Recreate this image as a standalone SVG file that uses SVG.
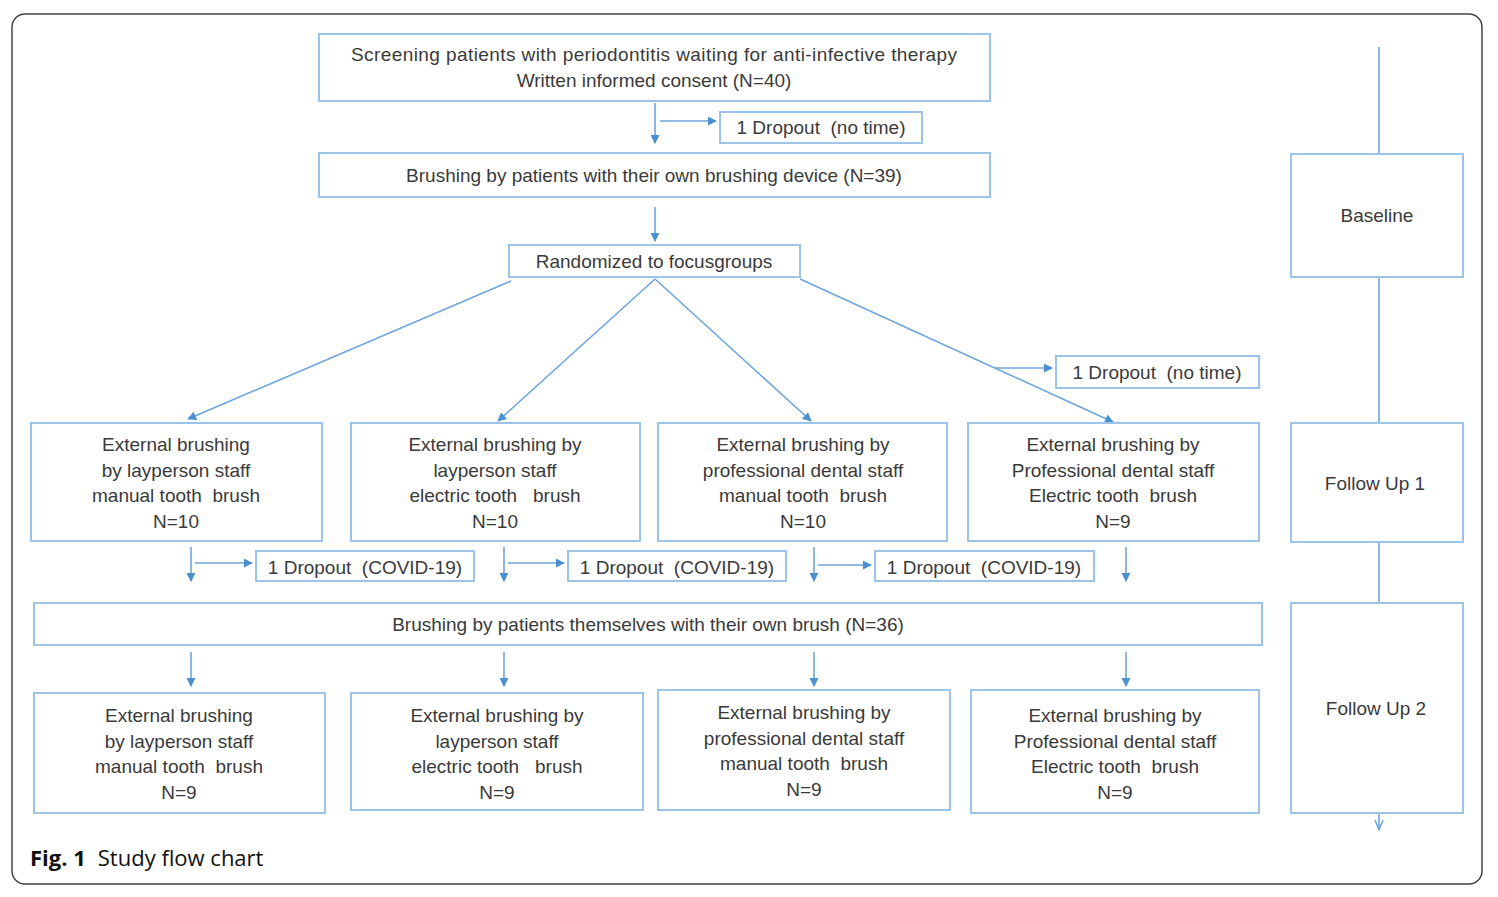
<svg xmlns="http://www.w3.org/2000/svg" width="1498" height="897" viewBox="0 0 1498 897">
<defs>
<style>
.box{fill:#fff;stroke:#9cc3e8;stroke-width:2}
.t{font-family:"Liberation Sans",Arial,sans-serif;font-size:19px;fill:#3a3a3a;text-anchor:middle;white-space:pre}
.c{fill:none;stroke:#6fa5da;stroke-width:1.6}
.cap{font-family:"Open Sans","Liberation Sans",sans-serif;font-size:22px;fill:#111}
</style>
<marker id="ah" viewBox="0 0 10 10" refX="9" refY="5" markerWidth="9" markerHeight="9" orient="auto" markerUnits="userSpaceOnUse">
<path d="M0,0 L10,5 L0,10 z" fill="#4a8fd0"/>
</marker>
<marker id="oh" viewBox="0 0 12 10" refX="11" refY="5" markerWidth="12" markerHeight="10" orient="auto" markerUnits="userSpaceOnUse">
<path d="M1,1 L11,5 L1,9" fill="none" stroke="#6fa5da" stroke-width="1.5"/>
</marker>
</defs>
<rect x="0" y="0" width="1498" height="897" fill="#fff"/>
<rect x="12" y="14" width="1470" height="870" rx="13" ry="13" fill="none" stroke="#444" stroke-width="1.5"/>

<g id="connectors">
<line class="c" x1="655" y1="103" x2="655" y2="143" marker-end="url(#ah)"/>
<line class="c" x1="660" y1="121" x2="716" y2="121" marker-end="url(#ah)"/>
<line class="c" x1="655" y1="207" x2="655" y2="241" marker-end="url(#ah)"/>
<line class="c" x1="511" y1="281" x2="188" y2="419" marker-end="url(#ah)"/>
<line class="c" x1="655" y1="279" x2="498" y2="421" marker-end="url(#ah)"/>
<line class="c" x1="655" y1="279" x2="811" y2="421" marker-end="url(#ah)"/>
<line class="c" x1="800" y1="279" x2="1113" y2="422" marker-end="url(#ah)"/>
<line class="c" x1="995" y1="368" x2="1052" y2="368" marker-end="url(#ah)"/>
<line class="c" x1="191" y1="547" x2="191" y2="581" marker-end="url(#ah)"/>
<line class="c" x1="195" y1="563" x2="252" y2="563" marker-end="url(#ah)"/>
<line class="c" x1="504" y1="547" x2="504" y2="581" marker-end="url(#ah)"/>
<line class="c" x1="508" y1="563" x2="564" y2="563" marker-end="url(#ah)"/>
<line class="c" x1="814" y1="547" x2="814" y2="581" marker-end="url(#ah)"/>
<line class="c" x1="818" y1="565" x2="871" y2="565" marker-end="url(#ah)"/>
<line class="c" x1="1126" y1="547" x2="1126" y2="581" marker-end="url(#ah)"/>
<line class="c" x1="191" y1="652" x2="191" y2="686" marker-end="url(#ah)"/>
<line class="c" x1="504" y1="652" x2="504" y2="686" marker-end="url(#ah)"/>
<line class="c" x1="814" y1="652" x2="814" y2="686" marker-end="url(#ah)"/>
<line class="c" x1="1126" y1="652" x2="1126" y2="686" marker-end="url(#ah)"/>
<line class="c" x1="1379" y1="47" x2="1379" y2="154"/>
<line class="c" x1="1379" y1="277" x2="1379" y2="423"/>
<line class="c" x1="1379" y1="542" x2="1379" y2="603"/>
<line class="c" x1="1379" y1="813" x2="1379" y2="830" marker-end="url(#oh)"/>
</g>

<g id="screening">
<rect class="box" x="319" y="34" width="671" height="67"/>
<text class="t" x="654" y="61" textLength="606">Screening patients with periodontitis waiting for anti-infective therapy</text>
<text class="t" x="654" y="87">Written informed consent (N=40)</text>
</g>
<g id="dropout1">
<rect class="box" x="720" y="112" width="202" height="31"/>
<text class="t" x="821" y="134">1 Dropout  (no time)</text>
</g>
<g id="own-device">
<rect class="box" x="319" y="153" width="671" height="44"/>
<text class="t" x="654" y="182">Brushing by patients with their own brushing device (N=39)</text>
</g>
<g id="randomized">
<rect class="box" x="509" y="245" width="291" height="32"/>
<text class="t" x="654" y="268">Randomized to focusgroups</text>
</g>
<g id="dropout2">
<rect class="box" x="1056" y="356" width="203" height="32"/>
<text class="t" x="1157" y="379">1 Dropout  (no time)</text>
</g>

<g id="g1a">
<rect class="box" x="31" y="423" width="291" height="118"/>
<text class="t" x="176" y="451">External brushing</text>
<text class="t" x="176" y="477">by layperson staff</text>
<text class="t" x="176" y="502">manual tooth  brush</text>
<text class="t" x="176" y="528">N=10</text>
</g>
<g id="g2a">
<rect class="box" x="351" y="423" width="289" height="118"/>
<text class="t" x="495" y="451">External brushing by</text>
<text class="t" x="495" y="477">layperson staff</text>
<text class="t" x="495" y="502">electric tooth   brush</text>
<text class="t" x="495" y="528">N=10</text>
</g>
<g id="g3a">
<rect class="box" x="658" y="423" width="289" height="118"/>
<text class="t" x="803" y="451">External brushing by</text>
<text class="t" x="803" y="477">professional dental staff</text>
<text class="t" x="803" y="502">manual tooth  brush</text>
<text class="t" x="803" y="528">N=10</text>
</g>
<g id="g4a">
<rect class="box" x="968" y="423" width="291" height="118"/>
<text class="t" x="1113" y="451">External brushing by</text>
<text class="t" x="1113" y="477">Professional dental staff</text>
<text class="t" x="1113" y="502">Electric tooth  brush</text>
<text class="t" x="1113" y="528">N=9</text>
</g>

<g id="covid1">
<rect class="box" x="256" y="551" width="218" height="30"/>
<text class="t" x="365" y="574">1 Dropout  (COVID-19)</text>
</g>
<g id="covid2">
<rect class="box" x="568" y="551" width="218" height="30"/>
<text class="t" x="677" y="574">1 Dropout  (COVID-19)</text>
</g>
<g id="covid3">
<rect class="box" x="875" y="551" width="219" height="30"/>
<text class="t" x="984" y="574">1 Dropout  (COVID-19)</text>
</g>

<g id="own-brush">
<rect class="box" x="34" y="603" width="1228" height="42"/>
<text class="t" x="648" y="631">Brushing by patients themselves with their own brush (N=36)</text>
</g>

<g id="g1b">
<rect class="box" x="34" y="693" width="291" height="120"/>
<text class="t" x="179" y="722">External brushing</text>
<text class="t" x="179" y="748">by layperson staff</text>
<text class="t" x="179" y="773">manual tooth  brush</text>
<text class="t" x="179" y="799">N=9</text>
</g>
<g id="g2b">
<rect class="box" x="351" y="693" width="292" height="117"/>
<text class="t" x="497" y="722">External brushing by</text>
<text class="t" x="497" y="748">layperson staff</text>
<text class="t" x="497" y="773">electric tooth   brush</text>
<text class="t" x="497" y="799">N=9</text>
</g>
<g id="g3b">
<rect class="box" x="658" y="690" width="292" height="120"/>
<text class="t" x="804" y="719">External brushing by</text>
<text class="t" x="804" y="745">professional dental staff</text>
<text class="t" x="804" y="770">manual tooth  brush</text>
<text class="t" x="804" y="796">N=9</text>
</g>
<g id="g4b">
<rect class="box" x="971" y="690" width="288" height="123"/>
<text class="t" x="1115" y="722">External brushing by</text>
<text class="t" x="1115" y="748">Professional dental staff</text>
<text class="t" x="1115" y="773">Electric tooth  brush</text>
<text class="t" x="1115" y="799">N=9</text>
</g>

<g id="baseline">
<rect class="box" x="1291" y="154" width="172" height="123"/>
<text class="t" x="1377" y="222">Baseline</text>
</g>
<g id="followup1">
<rect class="box" x="1291" y="423" width="172" height="119"/>
<text class="t" x="1375" y="490">Follow Up 1</text>
</g>
<g id="followup2">
<rect class="box" x="1291" y="603" width="172" height="210"/>
<text class="t" x="1376" y="715">Follow Up 2</text>
</g>

<text class="cap" x="30" y="866"><tspan font-weight="bold">Fig. 1</tspan><tspan dx="12">Study flow chart</tspan></text>
</svg>
